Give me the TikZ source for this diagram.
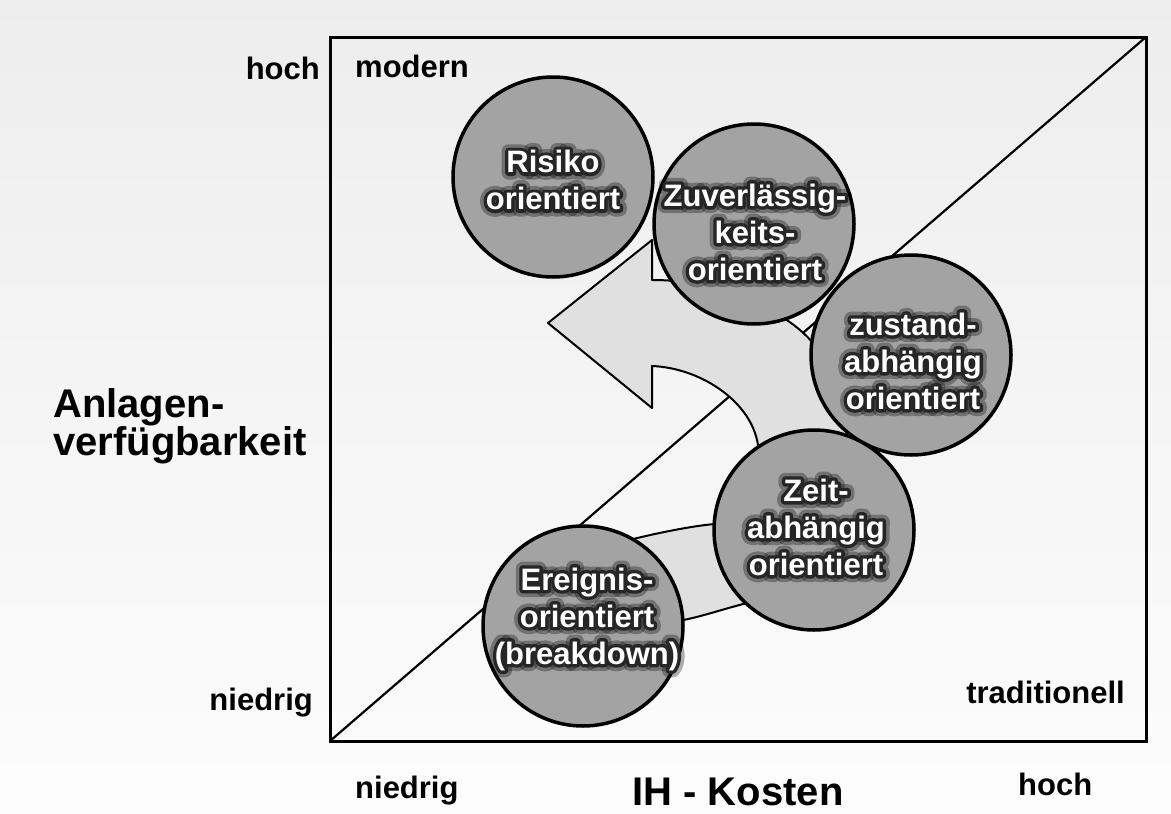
\documentclass[tikz,border=0pt]{standalone}
\usepackage{fontspec}
\setmainfont{Liberation Sans}
\newfontfamily\haloface[FakeBold=22]{Liberation Sans Bold}
\newfontfamily\haloouter[FakeBold=45]{Liberation Sans Bold}
\usetikzlibrary{calc}

\tikzset{
  axislabel/.style={font=\fontsize{31}{36}\selectfont\bfseries, inner sep=0pt},
  biglabel/.style={font=\fontsize{40}{40}\selectfont\bfseries, inner sep=0pt},
  frameline/.style={draw=black, line width=3pt},
  diagline/.style={draw=black, line width=2.2pt},
  turnarrow/.style={draw=black, line width=2pt, fill=black!12, line join=round},
  stage/.style={circle, draw=black, line width=3.5pt, fill=black!36,
                minimum size=200pt, inner sep=0pt},
  stagetext/.style={font=\fontsize{31}{37}\selectfont\bfseries, align=center, inner sep=0pt},
  haloinner/.style={font=\haloface\fontsize{31}{37}\selectfont, align=center,
                    inner sep=0pt, text=black!85, line join=round},
  halowide/.style={font=\haloouter\fontsize{31}{37}\selectfont, align=center,
                   inner sep=0pt, text=black, opacity=0.3, line join=round},
}

% white label with a dark glow around the letters
\newcommand\glowlabel[3]{%
  \node[halowide] at (#2) {#3};
  \node[haloinner] at (#2) {#3};
  \node[stagetext, text=white] (#1) at (#2) {#3};
}

\begin{document}
\begin{tikzpicture}[x=1pt, y=-1pt]
  % page and background
  \useasboundingbox (0,0) rectangle (1171,814);
  \shade[top color=black!7, bottom color=black!1] (0,0) rectangle (1171,814);

  % frame and diagonal
  \coordinate (lo) at (330,741);
  \coordinate (hi) at (1146,37);
  \draw[frameline] (lo) rectangle (hi);
  \draw[diagline] (lo) -- (hi);

  % curved development arrow
  \draw[turnarrow]
    (600,548) .. controls (640,536) and (690,526) .. (715,524)
    .. controls (745,515) and (765,470) .. (757,440)
    .. controls (748,400) and (700,368) .. (652,366)
    -- (652,408) -- (548,323) -- (652,240) -- (652,280)
    .. controls (720,280) and (770,305) .. (800,330)
    .. controls (840,365) and (870,430) .. (850,500)
    .. controls (845,560) and (790,595) .. (747,603)
    .. controls (720,610) and (700,617) .. (683,620)
    -- (600,632) -- cycle;

  % strategy circles
  \node[stage] (c-risk) at (553,177) {};
  \node[stage] (c-rel)  at (754,224) {};
  \node[stage] (c-cond) at (911,355) {};
  \node[stage] (c-time) at (814,530) {};
  \node[stage] (c-event) at (583,626) {};

  \coordinate (p-risk)  at (553,180);
  \coordinate (p-rel)   at (755,232);
  \coordinate (p-cond)  at (913,361);
  \coordinate (p-time)  at (816,527);
  \coordinate (p-event) at (587,619);

  \glowlabel{t-risk}{p-risk}{Risiko\\orientiert}
  \glowlabel{t-rel}{p-rel}{Zuverlässig-\\keits-\\orientiert}
  \glowlabel{t-cond}{p-cond}{zustand-\\abhängig\\orientiert}
  \glowlabel{t-time}{p-time}{Zeit-\\abhängig\\orientiert}
  \glowlabel{t-event}{p-event}{Ereignis-\\orientiert\\(breakdown)}

  % axis labels
  \node[axislabel, anchor=base east] (y-high) at (320,79) {hoch};
  \node[axislabel, anchor=base west] (modern) at (355,77) {modern};
  \node[axislabel, anchor=base east] (y-low) at (313,710) {niedrig};
  \node[axislabel, anchor=base east] (trad) at (1125,703) {traditionell};
  \node[axislabel, anchor=base west] (x-low) at (355,798) {niedrig};
  \node[axislabel, anchor=base west] (x-high) at (1018,795) {hoch};
  \node[biglabel, anchor=base] (x-title) at (738,805) {IH - Kosten};
  \node[biglabel, anchor=base west] (y-title1) at (53,417) {Anlagen-};
  \node[biglabel, anchor=base west] (y-title2) at (53,455) {verfügbarkeit};
\end{tikzpicture}
\end{document}
